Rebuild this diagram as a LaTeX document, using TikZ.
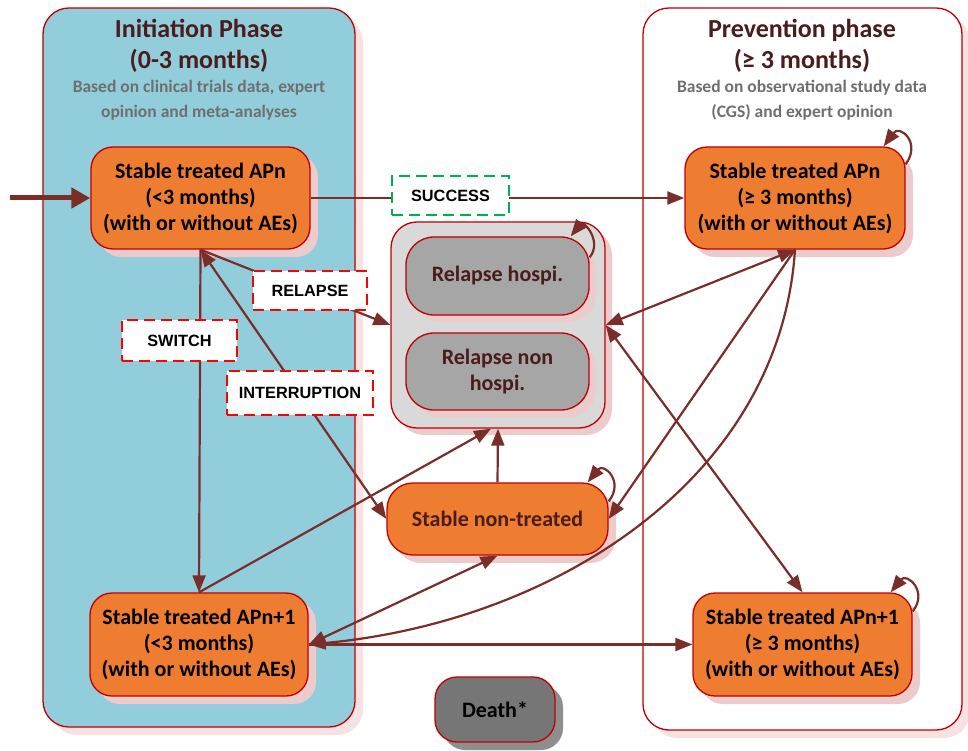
\documentclass[tikz,border=0pt]{standalone}
\usepackage{fontspec}
\setmainfont{Carlito}
\newfontfamily\labfont{Liberation Sans}
\usetikzlibrary{arrows.meta,shadows}
\definecolor{phaseblue}{HTML}{92CDDC}
\definecolor{orangebox}{HTML}{EE7D31}
\definecolor{bord}{HTML}{C00000}
\definecolor{arrowc}{HTML}{7A2E2A}
\definecolor{titlec}{HTML}{4A1C1C}
\definecolor{subc}{HTML}{6F6F6F}
\definecolor{pinksh}{HTML}{EBCBCB}
\definecolor{palesh}{HTML}{F6E2E2}
\definecolor{lgray}{HTML}{D9D9D9}
\definecolor{mgray}{HTML}{A6A6A6}
\definecolor{dgray}{HTML}{767676}
\definecolor{grayshadow}{HTML}{8E8E8E}
\definecolor{greenl}{HTML}{00B050}
\definecolor{redl}{HTML}{FF0000}
\begin{document}
\begin{tikzpicture}[x=1pt,y=-1pt,
  >={Triangle[length=17pt,width=13pt]},
  phasebox/.style={draw=bord, line width=1.3pt, rounded corners=26pt, inner sep=0pt,
    drop shadow={shadow xshift=8pt, shadow yshift=-8pt, fill=palesh, opacity=1}},
  statebox/.style={draw=bord, line width=1.3pt, fill=orangebox, rounded corners=22pt,
    inner sep=0pt, align=center, font=\bfseries\fontsize{22}{26}\selectfont,
    drop shadow={shadow xshift=8pt, shadow yshift=-8pt, fill=pinksh, opacity=1}},
  relbox/.style={draw=bord, line width=1.3pt, fill=mgray, rounded corners=28pt,
    inner sep=0pt, align=center, text=titlec, font=\bfseries\fontsize{22}{26}\selectfont,
    drop shadow={shadow xshift=7pt, shadow yshift=-7pt, fill=pinksh, opacity=1}},
  titletext/.style={align=center, text=titlec, font=\bfseries\fontsize{26}{31}\selectfont},
  subtext/.style={align=center, text=subc, font=\bfseries\fontsize{17.5}{25}\selectfont},
  conn/.style={draw=arrowc, line width=2.2pt},
  lab/.style={fill=white, line width=2.8pt, dash pattern=on 11pt off 6pt, inner sep=0pt,
    font=\labfont\bfseries\fontsize{16.3}{18}\selectfont},
  redlab/.style={lab, draw=redl},
  greenlab/.style={lab, draw=greenl}
]
\useasboundingbox (0,0) rectangle (968,751);

% phase boxes
\node[phasebox, fill=phaseblue, minimum width=312pt, minimum height=719pt] (init) at (199,367.5) {};
\node[phasebox, fill=white, minimum width=319pt, minimum height=722pt] (prev) at (802.5,369) {};

\node[titletext] (initT) at (199,46) {Initiation Phase\\(0-3 months)};
\node[subtext] (initS) at (199,100) {Based on clinical trials data, expert\\opinion and meta-analyses};
\node[titletext] (prevT) at (802,46) {Prevention phase\\(≥ 3 months)};
\node[subtext] (prevS) at (802,100) {Based on observational study data\\(CGS) and expert opinion};

% states
\node[statebox, minimum width=219pt, minimum height=102pt] (A) at (200.5,198)
  {Stable treated APn\\(<3 months)\\(with or without AEs)};
\node[statebox, minimum width=220pt, minimum height=102pt] (B) at (795,198)
  {Stable treated APn\\(≥ 3 months)\\(with or without AEs)};
\node[statebox, minimum width=218pt, minimum height=103pt] (C) at (199,644.5)
  {Stable treated APn+1\\(<3 months)\\(with or without AEs)};
\node[statebox, minimum width=219pt, minimum height=103pt] (D) at (802.5,644.5)
  {Stable treated APn+1\\(≥ 3 months)\\(with or without AEs)};
\node[statebox, text=titlec, rounded corners=26pt, minimum width=221pt, minimum height=72pt] (NT) at (497.5,519)
  {Stable non-treated};

\node[relbox, fill=lgray, rounded corners=26pt, minimum width=214pt, minimum height=206pt] (rel) at (498,325) {};
\node[relbox, minimum width=183pt, minimum height=78pt] (RH) at (497.5,276) {Relapse hospi.};
\node[relbox, minimum width=183pt, minimum height=77pt] (RN) at (497.5,371.5) {Relapse non\\hospi.};

\node[draw=bord, line width=1.3pt, fill=dgray, rounded corners=22pt, inner sep=0pt,
  minimum width=120pt, minimum height=65pt, font=\bfseries\fontsize{22}{26}\selectfont,
  drop shadow={shadow xshift=8pt, shadow yshift=-8pt, fill=grayshadow, opacity=1}]
  (death) at (495,709.5) {Death*};

% connectors
\coordinate (entry) at (10,198);
\draw[draw=arrowc, line width=5pt, -{Triangle[length=19pt,width=20pt]}] (entry) -- (A.west);
\draw[conn,->] (A.east) -- (B.west);
\draw[conn,->] (A.south) -- (C.north);
\draw[conn,->] (A.south) -- (rel.west);
\draw[conn,<->] (A.south) -- (NT.west);
\draw[conn,->] (C.north) -- ([xshift=-7pt]rel.south);
\draw[conn,->] (NT.north) -- (rel.south);
\draw[conn,<->] (C.east) -- (NT.south);
\draw[conn,<->] (B.south) -- (rel.east);
\draw[conn,->] (B.south) -- (NT.east);
\draw[conn,->] (B.south) .. controls (780,480) and (553,622) .. (C.east);
\draw[conn,<->] (rel.east) -- (D.north);
\draw[conn,->] (C.east) -- (D.west);

% self loops
\draw[conn,->] ([yshift=-18pt]B.north east) .. controls +(16,-22) and +(16,-22) .. ([xshift=-22pt]B.north east);
\draw[conn,->] ([yshift=-21pt]RH.north east) .. controls +(13,-16) and +(13,-16) .. ([xshift=-19pt]RH.north east);
\draw[conn,->] ([yshift=-19pt]NT.north east) .. controls +(16,-20) and +(16,-20) .. ([xshift=-21pt]NT.north east);
\draw[conn,->] ([yshift=-19pt]D.north east) .. controls +(16,-20) and +(16,-20) .. ([xshift=-22pt]D.north east);

% labels
\node[greenlab, minimum width=117pt, minimum height=39pt] (succ) at (450.5,195.5) {SUCCESS};
\node[redlab, minimum width=114pt, minimum height=39pt] (relL) at (310,290.5) {RELAPSE};
\node[redlab, minimum width=115pt, minimum height=41pt] (swL) at (179.5,340.5) {SWITCH};
\node[redlab, minimum width=146pt, minimum height=44pt] (intL) at (300,393) {INTERRUPTION};
\end{tikzpicture}
\end{document}
